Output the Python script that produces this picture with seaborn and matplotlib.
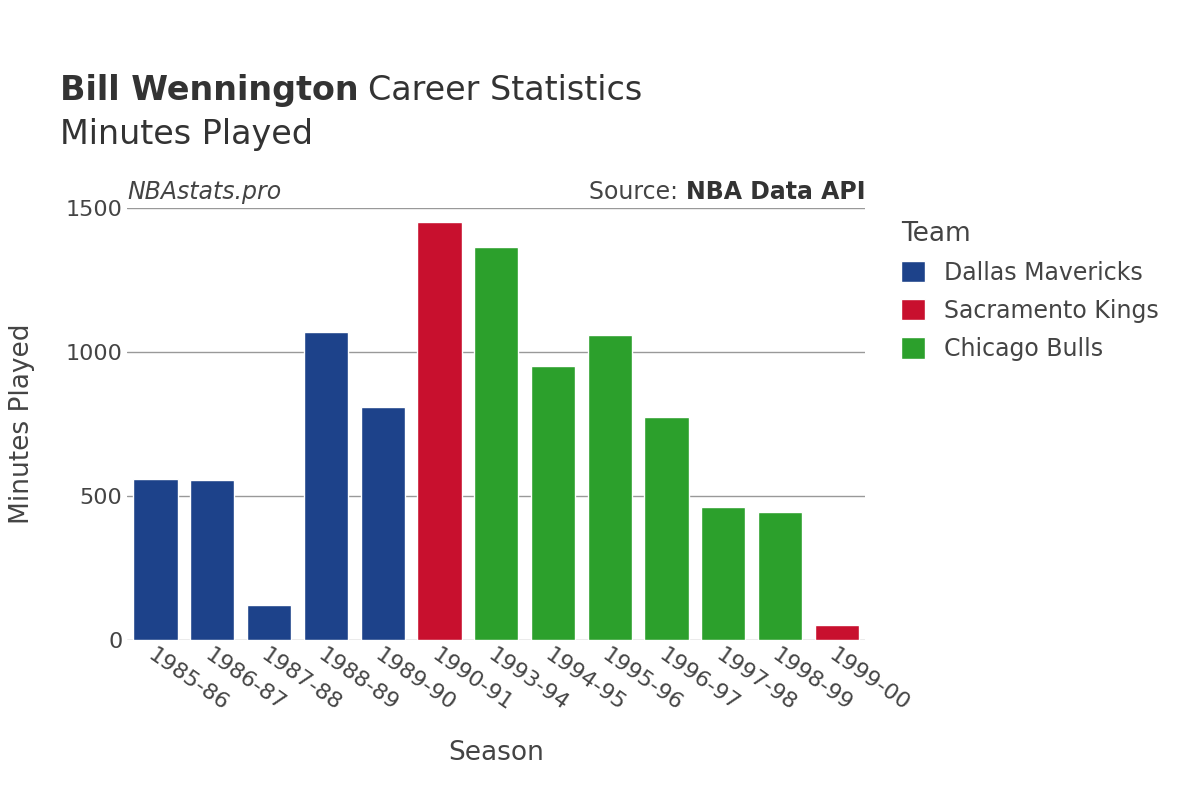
import matplotlib
matplotlib.use('Agg')
import matplotlib.pyplot as plt
import seaborn as sns
import pandas as pd

# ── Data ──────────────────────────────────────────────────────────────────────
seasons = ["1985-86", "1986-87", "1987-88", "1988-89", "1989-90", "1990-91", "1993-94",
           "1994-95", "1995-96", "1996-97", "1997-98", "1998-99", "1999-00"]
minutes = [560, 556, 120, 1070, 810, 1450, 1365, 950, 1060, 776, 462, 446, 52]
teams = ["Dallas Mavericks"] * 5 + ["Sacramento Kings"] + ["Chicago Bulls"] * 6 + ["Sacramento Kings"]
team_order = ["Dallas Mavericks", "Sacramento Kings", "Chicago Bulls"]
team_colors = {"Dallas Mavericks": "#1d428a", "Sacramento Kings": "#c8102e", "Chicago Bulls": "#2ca02c"}

df = pd.DataFrame({"Season": seasons, "Minutes": minutes, "Team": teams})

sns.set_theme(style="white", font="DejaVu Sans")
fig = plt.figure(figsize=(12, 8), dpi=100)
ax = fig.add_axes([0.106, 0.2, 0.615, 0.54])

sns.barplot(data=df, x="Season", y="Minutes", hue="Team", hue_order=team_order,
            palette=team_colors, dodge=False, width=0.78, ax=ax, saturation=1)

ax.set_ylim(0, 1500)
ax.set_yticks([0, 500, 1000, 1500])
ax.yaxis.grid(True, color="#999999", linewidth=1)
ax.set_axisbelow(True)
for s in ax.spines.values():
    s.set_visible(False)
ax.tick_params(axis="y", labelsize=16, colors="#444444", length=0)
ax.tick_params(axis="x", labelsize=16, colors="#444444", length=0)
plt.setp(ax.get_xticklabels(), rotation=-35, ha="left", rotation_mode="anchor")
ax.set_xlabel("Season", fontsize=19, color="#444444", labelpad=18)
ax.set_ylabel("Minutes Played", fontsize=19, color="#444444", labelpad=22)

leg = ax.legend(title="Team", loc="upper left", bbox_to_anchor=(1.02, 1.02),
                frameon=False, fontsize=17, title_fontsize=19, handlelength=1,
                handleheight=1, labelcolor="#444444", labelspacing=0.6)
leg.get_title().set_color("#444444")
leg._legend_box.align = "left"

fig.text(0.05, 0.875, "Bill Wennington", fontsize=24, fontweight="bold", color="#333333")
fig.text(0.307, 0.875, "Career Statistics", fontsize=24, color="#333333")
fig.text(0.05, 0.82, "Minutes Played", fontsize=24, color="#333333")
ax.text(0.0, 1.02, "NBAstats.pro", transform=ax.transAxes, fontsize=17,
        style="italic", color="#444444")
ax.text(1.0, 1.02, "Source: ", transform=ax.transAxes, fontsize=17, color="#444444",
        ha="right")
t = ax.text(1.0, 1.02, "NBA Data API", transform=ax.transAxes, fontsize=17,
            fontweight="bold", color="#333333", ha="right")
# shift "Source:" left of the bold part
fig.canvas.draw()
w = t.get_window_extent().width
ax.texts[1].set_position((1.0 - w / ax.get_window_extent().width, 1.02))

plt.savefig("out.png", dpi=100)
